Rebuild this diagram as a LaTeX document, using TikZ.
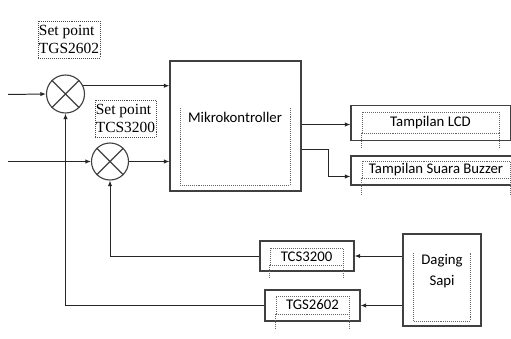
\documentclass[tikz,border=0pt]{standalone}
\usepackage{fontspec}
\setmainfont{Carlito}
\newfontfamily\spfont{Liberation Serif}
\usetikzlibrary{arrows.meta,positioning,calc}
\tikzset{
  blk/.style={draw=black!75, line width=0.8pt, rectangle, inner sep=0pt},
  spbox/.style={draw=black!70, densely dotted, align=left, inner sep=0.5pt,
                font=\spfont\fontsize{11}{12.8}\selectfont},
  lbl/.style={draw=black!60, densely dotted, inner sep=0pt,
              font=\fontsize{10.5}{12.6}\selectfont},
  sumpt/.style={draw=black!75, line width=0.8pt, circle, inner sep=0pt},
  sarr/.style={-{Latex[length=1.4mm,width=1.1mm]}, line width=0.7pt, black!85},
  leg/.style={densely dotted, black!60}
}
\begin{document}
\begin{tikzpicture}[x=0.025cm, y=-0.025cm]
\useasboundingbox (0,0) rectangle (511,339);
% set points and summing points
\node[spbox, minimum width=1.55cm, minimum height=0.925cm] (sp1) at (69,39.5) {Set point\\TGS2602};
\node[spbox, minimum width=1.525cm, minimum height=0.925cm] (sp2) at (125.5,118.5) {Set point\\TCS3200};
\node[sumpt, minimum size=0.95cm] (c1) at (65.5,94) {};
\node[sumpt, minimum size=0.925cm] (c2) at (110,161.5) {};
\draw[black!75, line width=0.8pt] (c1.north west) -- (c1.south east) (c1.north east) -- (c1.south west);
\draw[black!75, line width=0.8pt] (c2.north west) -- (c2.south east) (c2.north east) -- (c2.south west);
\coordinate (in1) at (8,94.5);
\coordinate (in2) at (8,161.5);
% controller
\node[blk, minimum width=3.275cm, minimum height=3.25cm] (mk) at (235.5,126) {};
\node[font=\fontsize{10.5}{12.6}\selectfont] (mkt) at (235,117) {Mikrokontroller};
\draw[leg] (180,108) |- (290,185) -- (290,108);
% outputs
\node[blk, minimum width=4cm, minimum height=0.875cm] (lcd) at (431,123) {};
\node[lbl, minimum width=3.425cm, minimum height=0.525cm] (lcdt) at (430.5,122.5) {Tampilan LCD};
\draw[leg] (lcdt.south west) -- ++(0,14) (lcdt.south east) -- ++(0,14);
\node[blk, minimum width=4.25cm, minimum height=0.725cm] (buz) at (436,170.5) {};
\node[lbl, minimum width=3.7cm, minimum height=0.425cm] (buzt) at (436,169.5) {Tampilan Suara Buzzer};
\draw[leg] (buzt.south west) -- ++(0,17) (buzt.south east) -- ++(0,17);
% sensors
\node[blk, minimum width=2.35cm, minimum height=0.75cm] (tcs) at (307,256) {};
\node[lbl, minimum width=1.825cm, minimum height=0.425cm] (tcst) at (306.5,256.5) {TCS3200};
\draw[leg] (tcst.south west) -- ++(0,13) (tcst.south east) -- ++(0,13);
\node[blk, minimum width=2.375cm, minimum height=0.775cm] (tgs) at (312.5,305.5) {};
\node[lbl, minimum width=1.825cm, minimum height=0.45cm] (tgst) at (312.5,305) {TGS2602};
\draw[leg] (tgst.south west) -- ++(0,15) (tgst.south east) -- ++(0,15);
\node[blk, minimum width=1.95cm, minimum height=2.3cm] (dg) at (442,280) {};
\node[align=center, font=\fontsize{10.5}{15}\selectfont] (dgt) at (442,271.5) {Daging\\Sapi};
\draw[leg] (413,253) |- (470,321) -- (470,253);
% connectors
\draw[sarr] (in1) -- (c1.west);
\draw[sarr] (in2) -- (c2.west);
\draw[sarr] (c1.25) -- (c1.25 -| mk.west);
\draw[sarr] (c2.east) -- (c2.east -| mk.west);
\draw[sarr] ($(mk.east |- lcd.west)+(0,1.5)$) -- ($(lcd.west)+(0,1.5)$);
\draw[sarr] (mk.east |- 0,149.5) -- (328.5,149.5) |- ($(buz.west)+(0,6)$);
\draw[sarr] (dg.west |- tcs.east) -- (tcs.east);
\draw[sarr] (dg.west |- tgs.east) -- (tgs.east);
\draw[sarr] (tcs.west) -| (c2.south);
\draw[sarr] (tgs.west) -| (c1.south);
\end{tikzpicture}
\end{document}
